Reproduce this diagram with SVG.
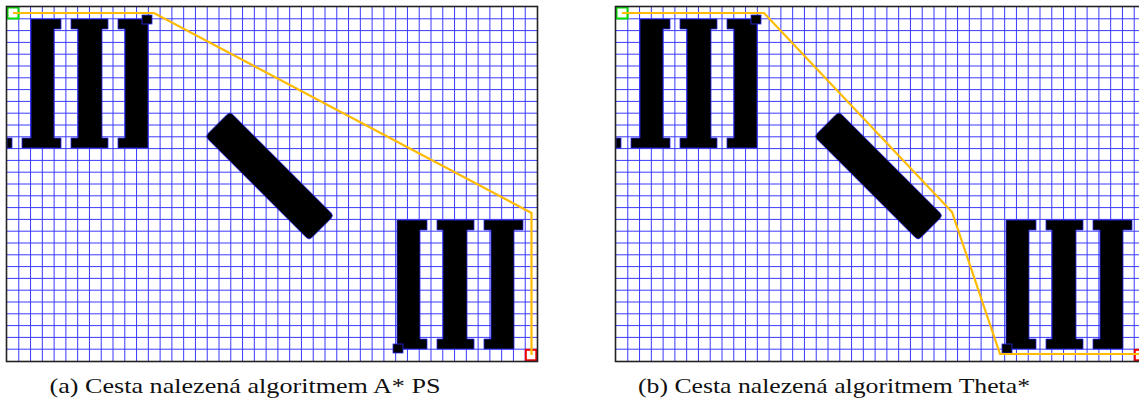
<svg xmlns="http://www.w3.org/2000/svg" xmlns:xlink="http://www.w3.org/1999/xlink" width="1139" height="405" viewBox="0 0 1139 405">
  <style>
    .grid { fill: none; stroke: #3a3aff; stroke-width: 1; }
    .obst { fill: #000; stroke: #2a2aee; stroke-width: 0.8; }
    .frame { fill: none; stroke: #222; stroke-width: 1.6; }
    .start { fill: none; stroke: #00dd00; stroke-width: 2; }
    .goal { fill: none; stroke: #ee0000; stroke-width: 2; }
    .path { fill: none; stroke: #ffbb00; stroke-width: 2.2; stroke-linejoin: miter; }
    .cap { font-family: "Liberation Serif", "DejaVu Serif", serif; font-size: 22px; fill: #111; }
  </style>
  <defs>
    <g id="III">
      <path class="obst" d="M31 19H61V29H54V138H61V148H22V138H31Z"/>
      <path class="obst" d="M71 19H108V29H102V138H108V148H71V138H78V29H71Z"/>
      <path class="obst" d="M118 19H148V148H118V138H125V29H118Z"/>
      <rect class="obst" x="142" y="15" width="10" height="9"/>
    </g>
    <g id="panel">
      <rect x="7" y="7" width="530" height="354" fill="#fff"/>
      <path class="grid" d="M18.78 7V361M30.56 7V361M42.33 7V361M54.11 7V361M65.89 7V361M77.67 7V361M89.44 7V361M101.22 7V361M113 7V361M124.78 7V361M136.56 7V361M148.33 7V361M160.11 7V361M171.89 7V361M183.67 7V361M195.44 7V361M207.22 7V361M219 7V361M230.78 7V361M242.56 7V361M254.33 7V361M266.11 7V361M277.89 7V361M289.67 7V361M301.44 7V361M313.22 7V361M325 7V361M336.78 7V361M348.56 7V361M360.33 7V361M372.11 7V361M383.89 7V361M395.67 7V361M407.44 7V361M419.22 7V361M431 7V361M442.78 7V361M454.56 7V361M466.33 7V361M478.11 7V361M489.89 7V361M501.67 7V361M513.44 7V361M525.22 7V361"/>
      <path class="grid" d="M7 18.8H537M7 30.6H537M7 42.4H537M7 54.2H537M7 66H537M7 77.8H537M7 89.6H537M7 101.4H537M7 113.2H537M7 125H537M7 136.8H537M7 148.6H537M7 160.4H537M7 172.2H537M7 184H537M7 195.8H537M7 207.6H537M7 219.4H537M7 231.2H537M7 243H537M7 254.8H537M7 266.6H537M7 278.4H537M7 290.2H537M7 302H537M7 313.8H537M7 325.6H537M7 337.4H537M7 349.2H537"/>
      <use xlink:href="#III" href="#III"/>
      <rect class="obst" x="7" y="138" width="5" height="10"/>
      <use xlink:href="#III" href="#III" transform="rotate(180 272.5 184)"/>
      <rect class="obst" x="-73.5" y="-17.5" width="147" height="35" rx="4" transform="translate(269.5 176) rotate(45)"/>
      <rect class="start" x="7.5" y="7.5" width="11" height="11"/>
      <rect class="goal" x="525.8" y="349.8" width="10.5" height="10.5"/>
      <rect class="frame" x="6.5" y="6.5" width="531" height="355"/>
    </g>
  </defs>
  <g id="panel-a">
    <use xlink:href="#panel" href="#panel"/>
  </g>
  <g id="panel-b">
    <use xlink:href="#panel" href="#panel" transform="translate(609 0)"/>
  </g>
  <g id="connectors">
    <polyline id="path-a" class="path" points="13,13 154,13 531.5,213 531.5,355"/>
    <polyline id="path-b" class="path" points="622,13 764,13 952,212 1000,354 1140,354"/>
  </g>
  <g id="captions">
    <text class="cap" x="245" y="393" text-anchor="middle" textLength="391" lengthAdjust="spacingAndGlyphs">(a) Cesta nalezená algoritmem A* PS</text>
    <text class="cap" x="834" y="393" text-anchor="middle" textLength="392" lengthAdjust="spacingAndGlyphs">(b) Cesta nalezená algoritmem Theta*</text>
  </g>
</svg>
